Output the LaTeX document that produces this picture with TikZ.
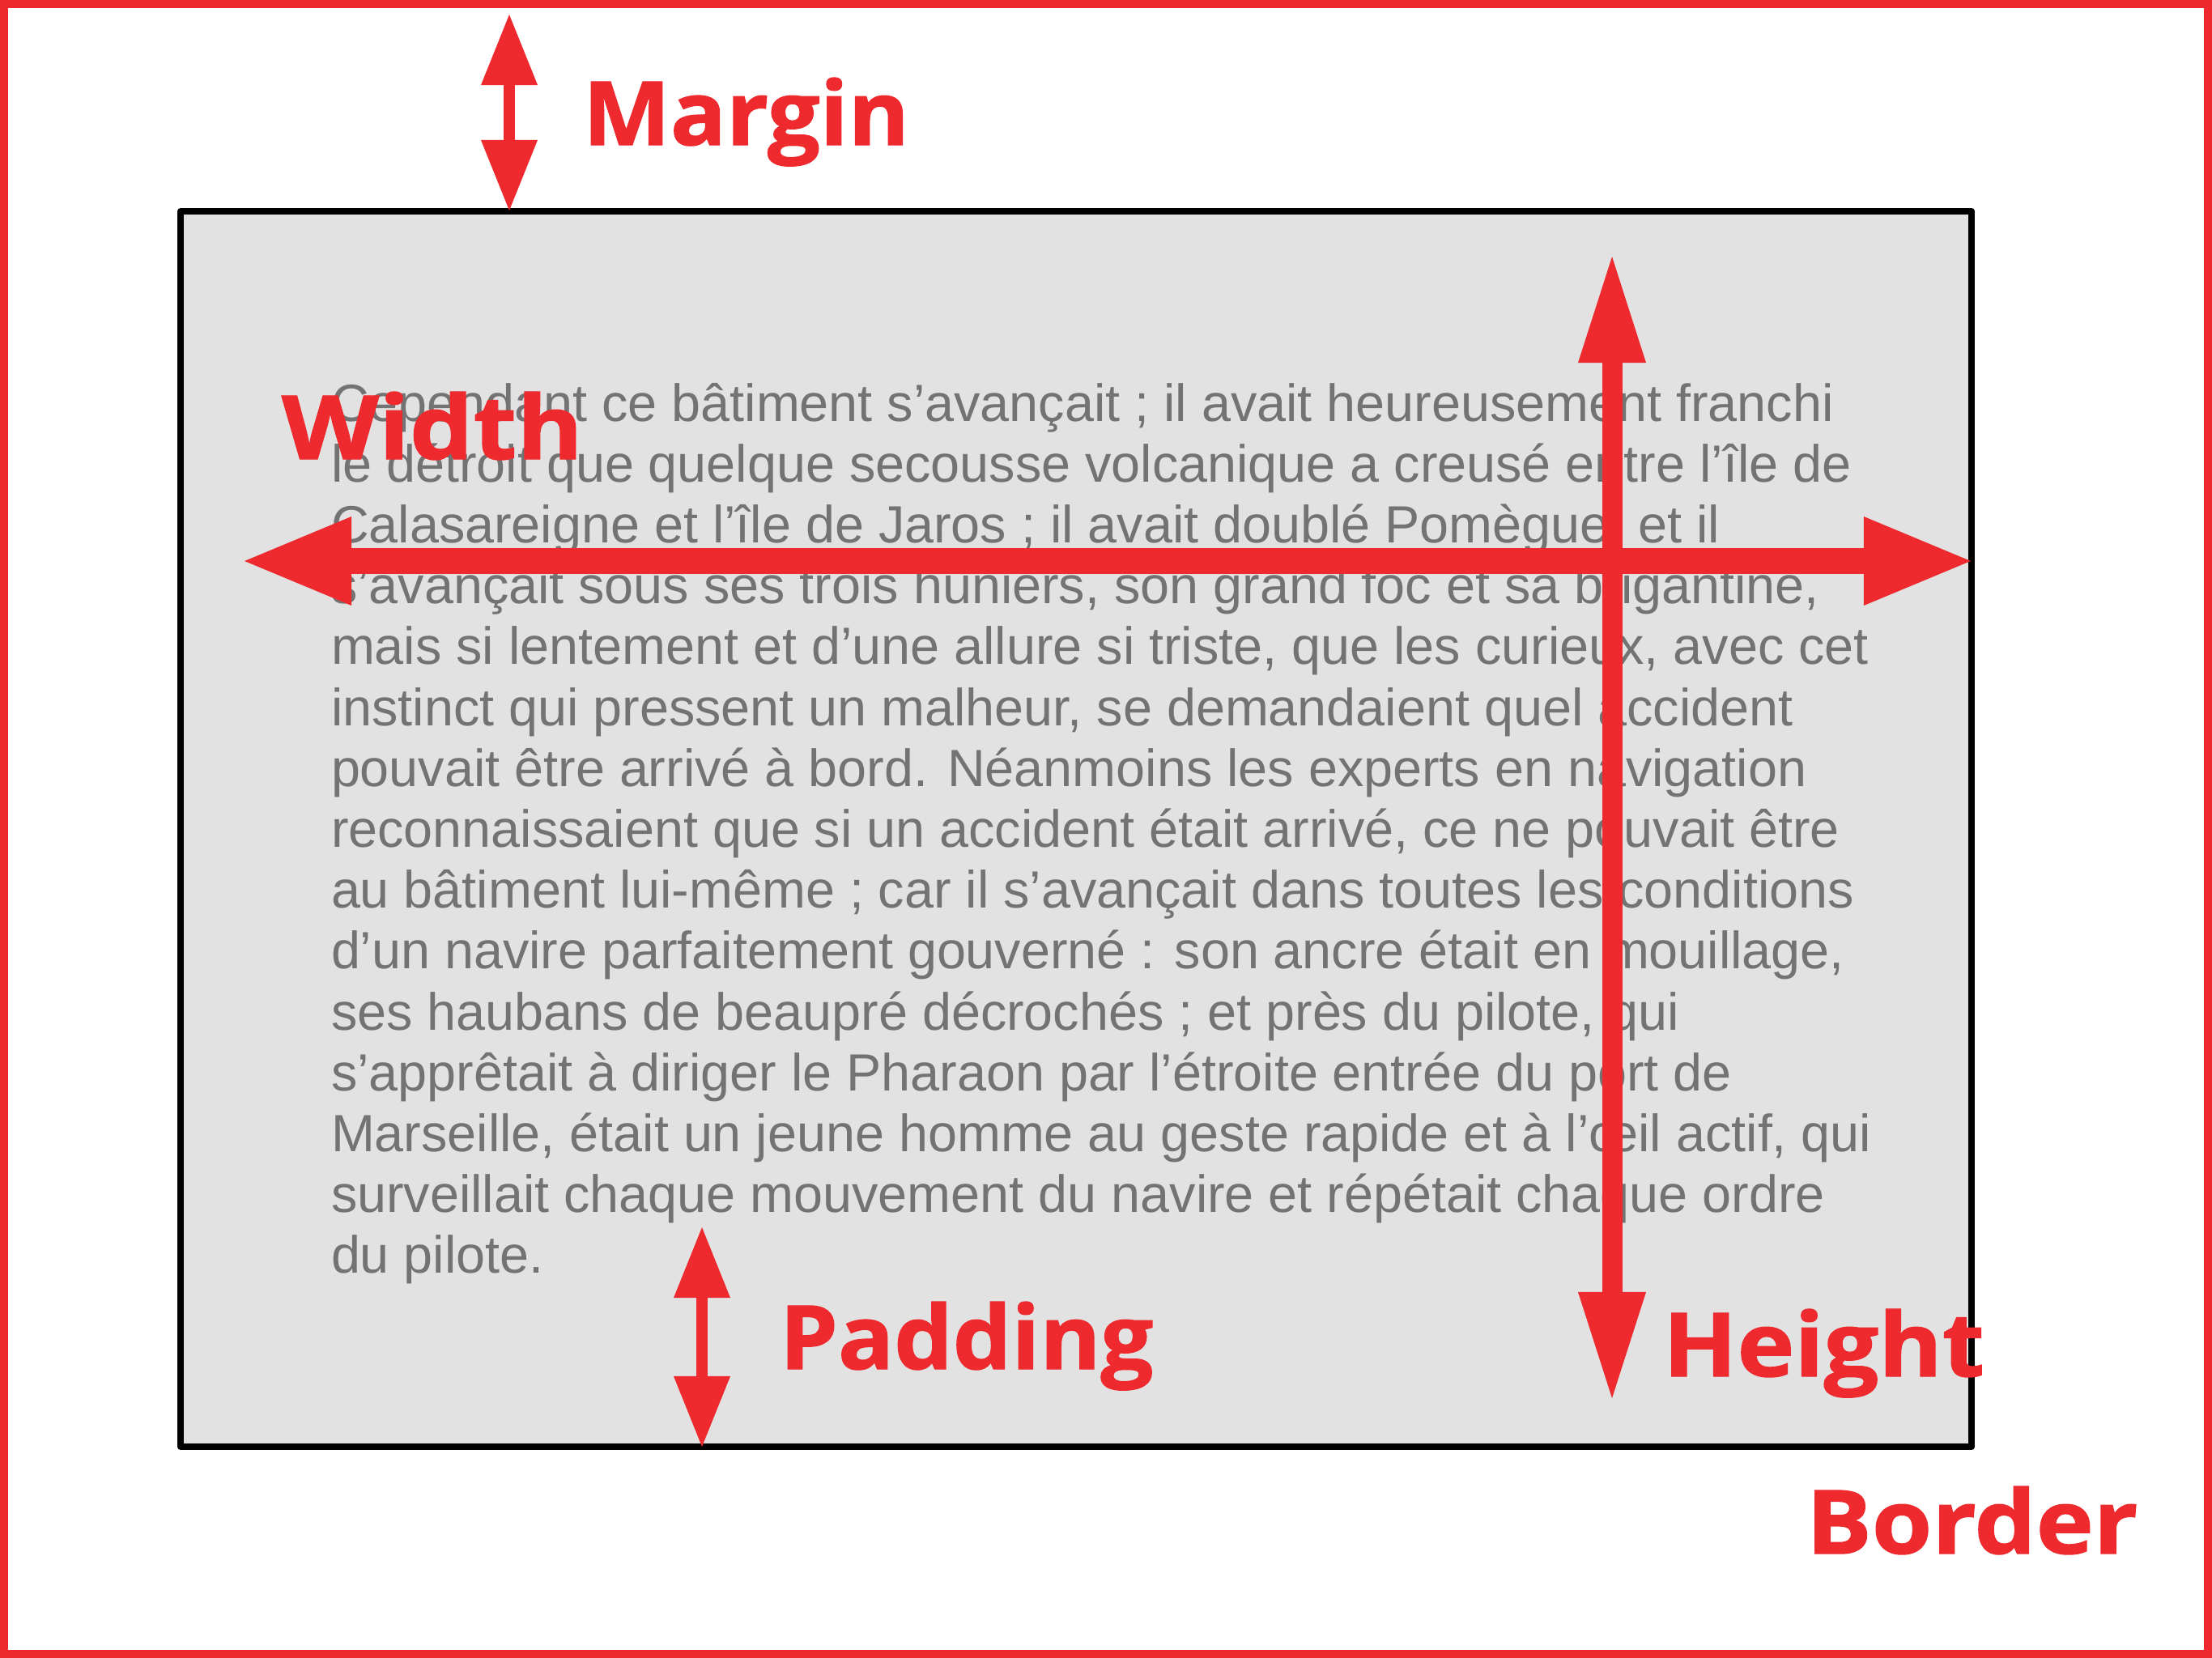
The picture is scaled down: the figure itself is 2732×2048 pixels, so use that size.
\documentclass[tikz,border=0pt]{standalone}
\usepackage{fontspec}
\setmainfont{Liberation Sans}
\newfontfamily\labelfont{Open Sans}[BoldFeatures={FakeBold=1.2}]
\usetikzlibrary{arrows.meta}
\definecolor{markred}{HTML}{EE2A2E}
\definecolor{boxgray}{HTML}{E2E2E2}
\definecolor{textgray}{HTML}{737373}

\begin{document}
\begin{tikzpicture}[x=0.01cm,y=-0.01cm,
  frame/.style={draw=markred,line width=0.10cm},
  contentbox/.style={draw=black,fill=boxgray,line width=0.08cm,line join=round},
  bodyline/.style={anchor=base west,inner sep=0pt,outer sep=0pt,text=textgray,
    font=\fontsize{18.4pt}{22pt}\selectfont},
  dimlabel/.style={anchor=base west,inner sep=0pt,outer sep=0pt,text=markred,
    font=\labelfont\bfseries\fontsize{31.1pt}{36pt}\selectfont},
  thindim/.style={draw=markred,line width=0.14cm,
    >={Triangle[length=0.87cm,width=0.70cm,line width=0pt]},<->},
  widedim/.style={draw=markred,line width=0.32cm,
    >={Triangle[length=1.32cm,width=1.10cm,line width=0pt]},<->},
  talldim/.style={draw=markred,line width=0.25cm,
    >={Triangle[length=1.31cm,width=0.84cm,line width=0pt]},<->}]

\useasboundingbox (0,0) rectangle (2732,2048);

% outer border of the page
\draw[frame] (5,5) rectangle (2727,2043);

% content box
\draw[contentbox] (223,261) rectangle (2435,1787);

% paragraph, one node per line
\foreach \ln [count=\i] in {
  {Cependant ce bâtiment s’avançait ; il avait heureusement franchi},
  {le détroit que quelque secousse volcanique a creusé entre l’île de},
  {Calasareigne et l’île de Jaros ; il avait doublé Pomègue, et il},
  {s’avançait sous ses trois huniers, son grand foc et sa brigantine,},
  {mais si lentement et d’une allure si triste, que les curieux, avec cet},
  {instinct qui pressent un malheur, se demandaient quel accident},
  {pouvait être arrivé à bord. Néanmoins les experts en navigation},
  {reconnaissaient que si un accident était arrivé, ce ne pouvait être},
  {au bâtiment lui-même ; car il s’avançait dans toutes les conditions},
  {d’un navire parfaitement gouverné : son ancre était en mouillage,},
  {ses haubans de beaupré décrochés ; et près du pilote, qui},
  {s’apprêtait à diriger le Pharaon par l’étroite entrée du port de},
  {Marseille, était un jeune homme au geste rapide et à l’œil actif, qui},
  {surveillait chaque mouvement du navire et répétait chaque ordre},
  {du pilote.}}
  \node[bodyline] (line\i) at (409,{520+(\i-1)*75.2}) {\ln};

% end points of the dimension arrows
\coordinate (margintop) at (629,18);
\coordinate (marginbot) at (629,260);
\coordinate (padtop) at (867,1516);
\coordinate (padbot) at (867,1787);
\coordinate (widthleft) at (302,693);
\coordinate (widthright) at (2434,693);
\coordinate (heighttop) at (1991,317);
\coordinate (heightbot) at (1991,1727);

\draw[thindim] (margintop) -- (marginbot);
\draw[thindim] (padtop) -- (padbot);
\draw[widedim] (widthleft) -- (widthright);
\draw[talldim] (heighttop) -- (heightbot);

% labels
\node[dimlabel] (margin) at (720,179) {\scalebox{1.047}[1]{Margin}};
\node[dimlabel] (width) at (348,567) {\scalebox{1.135}[1]{Width}};
\node[dimlabel] (padding) at (963,1691) {\scalebox{1.048}[1]{Padding}};
\node[dimlabel] (height) at (2054,1700) {\scalebox{1.094}[1]{Height}};
\node[dimlabel] (border) at (2231,1919) {\scalebox{1.10}[1]{Border}};
\end{tikzpicture}
\end{document}
